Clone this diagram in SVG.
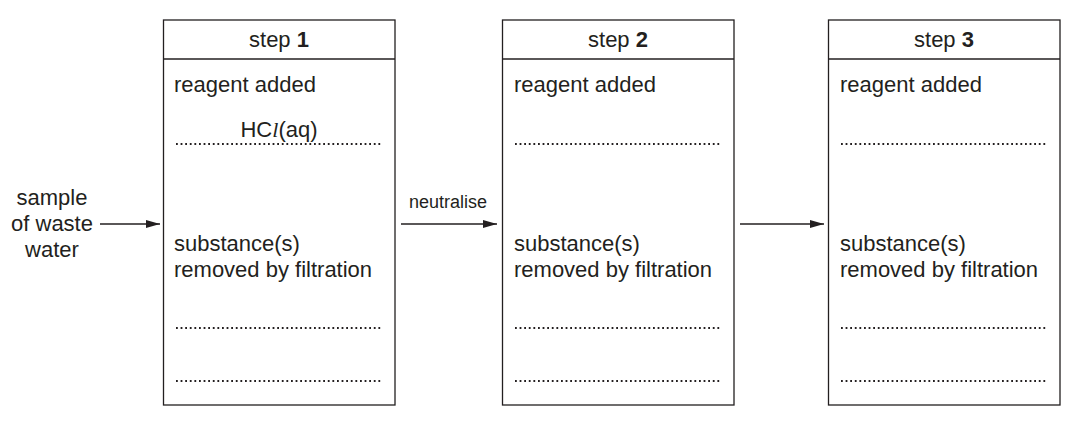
<svg xmlns="http://www.w3.org/2000/svg" width="1073" height="422" viewBox="0 0 1073 422">
<style>
text{font-family:"Liberation Sans",Arial,sans-serif;font-size:22px;fill:#231f20}
.box{fill:none;stroke:#231f20;stroke-width:1.3}
.dot{stroke:#231f20;stroke-width:1.8;stroke-dasharray:1.8 2.8}
.c{stroke:#231f20;stroke-width:1.5;fill:none}
</style>
<defs><marker id="a" markerWidth="14" markerHeight="8" refX="14" refY="4" orient="auto" markerUnits="userSpaceOnUse"><path d="M0,0L14,4L0,8z" fill="#231f20"/></marker></defs>
<g id="input"><text x="52" y="205" text-anchor="middle">sample</text><text x="52" y="231" text-anchor="middle">of waste</text><text x="52" y="257" text-anchor="middle">water</text></g>
<g id="connectors">
<line class="c" x1="100" y1="224" x2="160" y2="224" marker-end="url(#a)"/>
<line class="c" x1="401" y1="224" x2="497" y2="224" marker-end="url(#a)"/>
<text x="448" y="208" text-anchor="middle" style="font-size:18px">neutralise</text>
<line class="c" x1="740" y1="224" x2="824" y2="224" marker-end="url(#a)"/>
</g>
<g id="step1">
<rect class="box" x="163.5" y="20" width="231.5" height="385"/><line class="box" x1="163.5" y1="59" x2="395" y2="59"/>
<text x="279" y="47" text-anchor="middle">step <tspan font-weight="bold">1</tspan></text>
<text x="174" y="92">reagent added</text>
<text x="279" y="137" text-anchor="middle">HC<tspan style="font-family:'Liberation Serif',serif;font-style:italic">l</tspan>(aq)</text>
<line class="dot" x1="176" y1="144" x2="382" y2="144"/>
<text x="174" y="251">substance(s)</text><text x="174" y="277">removed by filtration</text>
<line class="dot" x1="176" y1="328" x2="382" y2="328"/><line class="dot" x1="176" y1="381" x2="382" y2="381"/>
</g>
<g id="step2">
<rect class="box" x="502.5" y="20" width="231.5" height="385"/><line class="box" x1="502.5" y1="59" x2="734" y2="59"/>
<text x="618" y="47" text-anchor="middle">step <tspan font-weight="bold">2</tspan></text>
<text x="514" y="92">reagent added</text>
<line class="dot" x1="515" y1="144" x2="721" y2="144"/>
<text x="514" y="251">substance(s)</text><text x="514" y="277">removed by filtration</text>
<line class="dot" x1="515" y1="328" x2="721" y2="328"/><line class="dot" x1="515" y1="381" x2="721" y2="381"/>
</g>
<g id="step3">
<rect class="box" x="828.5" y="20" width="231.5" height="385"/><line class="box" x1="828.5" y1="59" x2="1060" y2="59"/>
<text x="944" y="47" text-anchor="middle">step <tspan font-weight="bold">3</tspan></text>
<text x="840" y="92">reagent added</text>
<line class="dot" x1="841" y1="144" x2="1047" y2="144"/>
<text x="840" y="251">substance(s)</text><text x="840" y="277">removed by filtration</text>
<line class="dot" x1="841" y1="328" x2="1047" y2="328"/><line class="dot" x1="841" y1="381" x2="1047" y2="381"/>
</g>
</svg>
